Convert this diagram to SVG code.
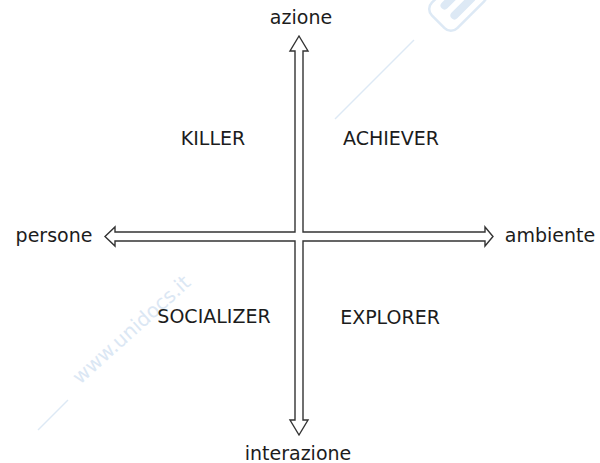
<svg xmlns="http://www.w3.org/2000/svg" width="600" height="463" viewBox="0 0 600 463">
  <style>
    .lbl { font-family: "DejaVu Sans", Verdana, sans-serif; font-size: 19px; fill: #1c1c1c; text-anchor: middle; }
    .wm { stroke: #dde9f5; fill: none; }
    .wmtext { font-family: "DejaVu Sans", Verdana, sans-serif; font-size: 20px; fill: #dbe7f4; }
  </style>
  <rect width="600" height="463" fill="#ffffff"/>
  <g id="watermark">
    <line class="wm" x1="414" y1="40" x2="335" y2="119" stroke-width="1.5"/>
    <line class="wm" x1="68" y1="400" x2="38" y2="430" stroke-width="1.5"/>
    <g transform="translate(458,2) rotate(-45)">
      <rect x="-28" y="-18" width="56" height="36" rx="9" class="wm" stroke-width="2.5"/>
      <rect x="-16" y="-11" width="32" height="8" rx="4" fill="#dde9f5"/>
      <rect x="-16" y="3" width="32" height="8" rx="4" fill="#dde9f5"/>
    </g>
    <text class="wmtext" transform="translate(80,385) rotate(-42)">www.unidocs.it</text>
  </g>
  <g id="connectors">
    <path d="M299,36 L308,51 L303,51 L303,232 L485,232 L485,227 L493,236.5 L485,246 L485,241 L303,241 L303,420 L308,420 L299,435 L290,420 L295,420 L295,241 L115,241 L115,246 L105,236.5 L115,227 L115,232 L295,232 L295,51 L290,51 Z" fill="#ffffff" stroke="#333" stroke-width="1.4" stroke-linejoin="miter"/>
  </g>
  <g id="azione"><text class="lbl" x="301" y="24">azione</text></g>
  <g id="interazione"><text class="lbl" x="298" y="460">interazione</text></g>
  <g id="persone"><text class="lbl" x="54" y="242">persone</text></g>
  <g id="ambiente"><text class="lbl" x="550" y="242">ambiente</text></g>
  <g id="killer"><text class="lbl" x="213" y="145">KILLER</text></g>
  <g id="achiever"><text class="lbl" x="391" y="145">ACHIEVER</text></g>
  <g id="socializer"><text class="lbl" x="214" y="323">SOCIALIZER</text></g>
  <g id="explorer"><text class="lbl" x="390" y="324">EXPLORER</text></g>
</svg>
